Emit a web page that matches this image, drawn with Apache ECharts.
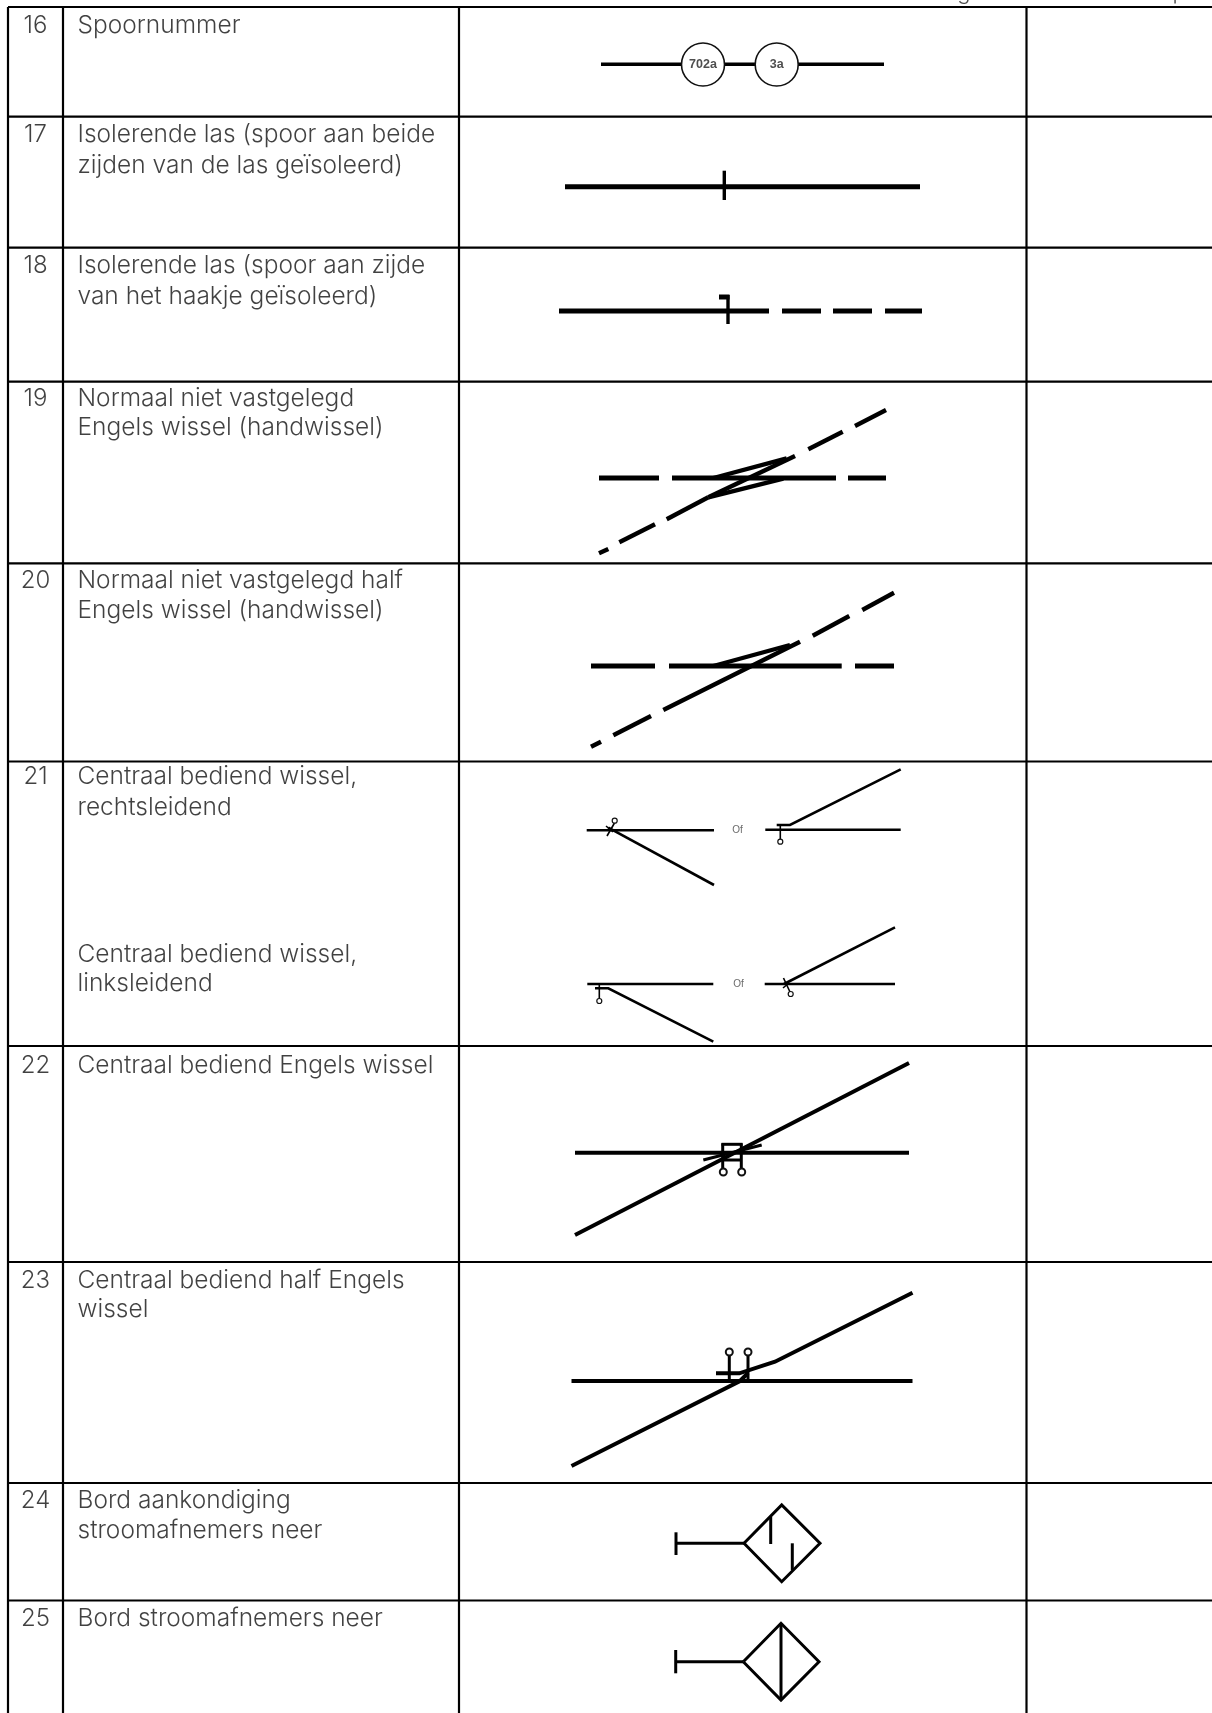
<!DOCTYPE html>
<html><head><meta charset="utf-8">
<style>html,body{margin:0;padding:0;background:#fff}#c{width:1212px;height:1713px}</style>
<script src="https://cdn.jsdelivr.net/npm/echarts@6/dist/echarts.min.js"></script>
</head><body><div id="c"></div>
<script>
// table structure (axis units)
const columnEdges = [8, 63, 459, 1026.5];
const rowEdges = [7, 116.7, 247.7, 381.7, 563.3, 761.5, 1046, 1262, 1483, 1600.5];
const tableBottom = 1713, tableRight = 1212;

const rowNumbers = [["16",25],["17",134],["18",265],["19",398],["20",580],["21",776],["22",1065],["23",1280],["24",1500],["25",1618]];
const rowTexts = [
  ["Spoornummer",25],
  ["Isolerende las (spoor aan beide",134],["zijden van de las geïsoleerd)",165],
  ["Isolerende las (spoor aan zijde",265],["van het haakje geïsoleerd)",296],
  ["Normaal niet vastgelegd",398],["Engels wissel (handwissel)",427],
  ["Normaal niet vastgelegd half",580],["Engels wissel (handwissel)",610],
  ["Centraal bediend wissel,",776],["rechtsleidend",807],
  ["Centraal bediend wissel,",954],["linksleidend",983],
  ["Centraal bediend Engels wissel",1065],
  ["Centraal bediend half Engels",1280],["wissel",1309],
  ["Bord aankondiging",1500],["stroomafnemers neer",1530],
  ["Bord stroomafnemers neer",1618]
];
const orWords = [["Of",737.5,830.7],["Of",738.5,984.3]];
const trackNumbers = [["702a",703,64.5],["3a",776.7,64.5]];
const clippedHeader = [["g",964],["p",1179]];

// symbol paths per table row, as [x,y] polylines in axis units
const sym16 = [[[601,64.3],[884,64.3]]];
const sym17 = [[[565,186.7],[920,186.7]]];
const sym18 = [[[559,311],[769,311]],[[782,311],[821,311]],[[833,311],[872,311]],[[885,311],[922,311]]];
const sym19h = [[[599,478],[659,478]],[[672,478],[836,478]],[[848,478],[886,478]]];
const sym19d = [[[599,553.3],[608.3,549]],[[619.3,542.3],[655,524.3]],[[666.7,519.3],[708.3,497.3]],
  [[708.3,497.3],[795,456]],[[708.3,497.3],[783.3,478.7]],[[713.3,478],[786.7,458.3]],
  [[808.3,449.3],[842.7,431.7]],[[855,426],[886,410]]];
const sym20h = [[[591,666],[655,666]],[[669,666],[841.7,666]],[[855,666],[894,666]]];
const sym20d = [[[591,746.7],[601,741.7]],[[613.3,735.3],[651,716]],[[663.3,710],[800,641.7]],
  [[713.3,666],[790,645]],[[812.7,635.7],[849.3,616]],[[862.3,610],[894,592.7]]];
const sym21 = [
  [[586.7,830.3],[714,830.3]],[[608.3,827.7],[714,885]],
  [[765.3,829.7],[900.7,829.7]],[[776.7,825],[790,825],[900.7,769.3]],
  [[587.3,984],[713.3,984]],[[595,988.3],[608.3,988.3],[713.3,1041.7]],
  [[764.7,984],[895,984]],[[784,984],[895,927.3]]
];
const sym21fine = [
  [[607,836],[614.5,823]],[[606,826],[613,832]],
  [[780.3,824],[780.3,840]],
  [[599.3,984],[599.3,999]],
  [[783.5,978],[790,992]],[[783,988],[789,983]]
];
const sym22 = [[[575,1152.7],[909,1152.7]],[[575,1235],[909,1063]]];
const sym22fine = [[[703.3,1160],[761.7,1145]],[[722.7,1143.3],[722.7,1168]],[[741.3,1143.3],[741.3,1168]],
  [[721.5,1144.3],[742.5,1144.3]],[[722.7,1160],[741.3,1160]]];
const sym23 = [[[571.5,1381],[912.5,1381]],[[571.5,1466],[740,1381],[748,1373]],
  [[716,1373.3],[739.3,1373.3],[775,1361.7],[912.5,1292.8]]];
const sym23fine = [[[729.3,1356],[729.3,1381]],[[748,1356],[748,1381]]];
const sym24 = [[[676,1532.3],[676,1555]],[[676,1543.3],[744,1543.3]],
  [[744,1543.3],[781.7,1505],[820,1543.3],[781.7,1581.7],[744,1543.3]],
  [[770.7,1516.7],[770.7,1544]],[[792.3,1543.3],[792.3,1570]]];
const sym25 = [[[675.7,1650],[675.7,1673.3]],[[675.7,1661.7],[743.3,1661.7]],
  [[743.3,1661.7],[781,1623.3],[819,1661.7],[781,1700],[743.3,1661.7]],
  [[781,1623.3],[781,1700]]];
const sym17tick = [[[724.3,170.7],[724.3,200]]];
const sym18tick = [[[728,295],[728,324]]];
const sym18hook = [[[719,297],[729.5,297]]];

// ring markers: [x, y, diameter]
const switchRings = [[614.7,820.7,5],[780.3,841.7,5],[599.3,1001,5],[790.7,994,5]];
const heavyRings = [[723.3,1172,7],[741.7,1172,7],[729.3,1352,7],[748,1352,7]];
const numberRings = [[703,64.5,43],[776.7,64.5,43]];

const tableLines = [
  ...rowEdges.map(y => [[8,y],[tableRight,y]]),
  ...columnEdges.map(x => [[x,rowEdges[0]],[x,tableBottom]])
];

function lineSeries(paths, width, z, cap) {
  return {type:'lines',coordinateSystem:'cartesian2d',polyline:true,silent:true,animation:false,z:z||2,
    lineStyle:{color:'#000',width:width,opacity:1,cap:cap||'butt',join:'miter'},
    data:paths.map(p=>({coords:p}))};
}
function ringSeries(rings, bw) {
  return {type:'scatter',silent:true,animation:false,z:5,clip:false,symbol:'circle',
    symbolSize:v=>v[2],itemStyle:{color:'#fff',borderColor:'#111',borderWidth:bw,opacity:1},data:rings};
}
function textSeries(points, label) {
  return {type:'scatter',silent:true,animation:false,z:6,clip:false,symbolSize:1,
    itemStyle:{color:'rgba(0,0,0,0)'},
    label:Object.assign({show:true,distance:0,formatter:p=>p.data[2]},label),data:points};
}
const BODY = 'Inter, "Open Sans", sans-serif';

const chart = echarts.init(document.getElementById('c'),null,{width:1212,height:1713,renderer:'canvas'});
chart.setOption({
  animation:false,backgroundColor:'#fff',
  grid:{left:0,right:0,top:0,bottom:0,show:false},
  xAxis:{type:'value',min:0,max:1212,show:false},
  yAxis:{type:'value',min:0,max:1713,inverse:true,show:false},
  series:[
    lineSeries(tableLines,2.2,1),
    lineSeries(sym16,3.4),
    lineSeries(sym22,4),
    lineSeries(sym17,5),
    lineSeries([...sym18,...sym19h,...sym20h],5),
    lineSeries([...sym19d,...sym20d],4.4),
    lineSeries([...sym17tick,...sym18tick],3.4),
    lineSeries(sym18hook,5),
    lineSeries(sym21,2.6),
    lineSeries(sym21fine,1.6),
    lineSeries(sym22fine,3),
    lineSeries(sym23,4),
    lineSeries(sym23fine,3),
    lineSeries([...sym24,...sym25],3),
    ringSeries(numberRings,1.6),
    ringSeries(switchRings,1.2),
    ringSeries(heavyRings,2),
    textSeries(rowNumbers.map(r=>[35.5,r[1],r[0]]),{position:'inside',align:'center',verticalAlign:'middle',offset:[0,1],fontFamily:BODY,fontSize:24,fontWeight:300,color:'#111'}),
    textSeries(rowTexts.map(r=>[77,r[1],r[0]]),{position:'right',align:'left',verticalAlign:'middle',offset:[0,0.5],fontFamily:BODY,fontSize:24.5,fontWeight:300,color:'#111'}),
    textSeries(orWords.map(r=>[r[1],r[2],r[0]]),{position:'inside',align:'center',verticalAlign:'middle',fontFamily:'"Liberation Sans"',fontSize:10,color:'#444'}),
    textSeries(trackNumbers.map(r=>[r[1],r[2],r[0]]),{position:'inside',align:'center',verticalAlign:'middle',fontFamily:'"Liberation Sans"',fontSize:12.5,fontWeight:'bold',color:'#222'}),
    textSeries(clippedHeader.map(r=>[r[1],0,r[0]]),{position:'inside',align:'center',verticalAlign:'middle',offset:[0,-8],fontFamily:BODY,fontSize:22,fontWeight:300,color:'#222'})
  ]
});
</script></body></html>
